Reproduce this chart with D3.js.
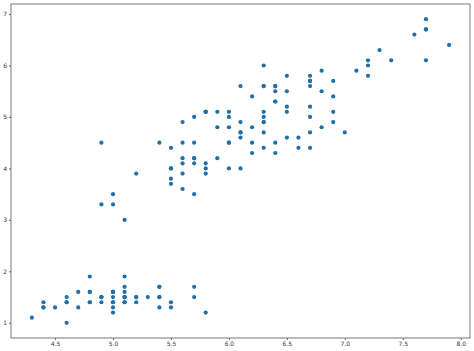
<!DOCTYPE html>
<html>
<head>
<meta charset="utf-8">
<script src="https://cdn.jsdelivr.net/npm/d3@7"></script>
<style>
  body { margin: 0; background: #fff; }
  svg { display: block; }
</style>
</head>
<body>
<svg id="chart" width="474" height="351"></svg>
<script>
// sepal length (x) and petal length (y), one entry per flower
const sepalLength = [
  5.1,4.9,4.7,4.6,5.0,5.4,4.6,5.0,4.4,4.9,5.4,4.8,4.8,4.3,5.8,5.7,5.4,5.1,5.7,5.1,5.4,5.1,4.6,5.1,4.8,
  5.0,5.0,5.2,5.2,4.7,4.8,5.4,5.2,5.5,4.9,5.0,5.5,4.9,4.4,5.1,5.0,4.5,4.4,5.0,5.1,4.8,5.1,4.6,5.3,5.0,
  7.0,6.4,6.9,5.5,6.5,5.7,6.3,4.9,6.6,5.2,5.0,5.9,6.0,6.1,5.6,6.7,5.6,5.8,6.2,5.6,5.9,6.1,6.3,6.1,6.4,
  6.6,6.8,6.7,6.0,5.7,5.5,5.5,5.8,6.0,5.4,6.0,6.7,6.3,5.6,5.5,5.5,6.1,5.8,5.0,5.6,5.7,5.7,6.2,5.1,5.7,
  6.3,5.8,7.1,6.3,6.5,7.6,4.9,7.3,6.7,7.2,6.5,6.4,6.8,5.7,5.8,6.4,6.5,7.7,7.7,6.0,6.9,5.6,7.7,6.3,6.7,
  7.2,6.2,6.1,6.4,7.2,7.4,7.9,6.4,6.3,6.1,7.7,6.3,6.4,6.0,6.9,6.7,6.9,5.8,6.8,6.7,6.7,6.3,6.5,6.2,5.9
];
const petalLength = [
  1.4,1.4,1.3,1.5,1.4,1.7,1.4,1.5,1.4,1.5,1.5,1.6,1.4,1.1,1.2,1.5,1.3,1.4,1.7,1.5,1.7,1.5,1.0,1.7,1.9,
  1.6,1.6,1.5,1.4,1.6,1.6,1.5,1.5,1.4,1.5,1.2,1.3,1.5,1.3,1.5,1.3,1.3,1.3,1.6,1.9,1.4,1.6,1.4,1.5,1.4,
  4.7,4.5,4.9,4.0,4.6,4.5,4.7,3.3,4.6,3.9,3.5,4.2,4.0,4.7,3.6,4.4,4.5,4.1,4.5,3.9,4.8,4.0,4.9,4.7,4.3,
  4.4,4.8,5.0,4.5,3.5,3.8,3.7,3.9,5.1,4.5,4.5,4.7,4.4,4.1,4.0,4.4,4.6,4.0,3.3,4.2,4.2,4.2,4.3,3.0,4.1,
  6.0,5.1,5.9,5.6,5.8,6.6,4.5,6.3,5.8,6.1,5.1,5.3,5.5,5.0,5.1,5.3,5.5,6.7,6.9,5.0,5.7,4.9,6.7,4.9,5.7,
  6.0,4.8,4.9,5.6,5.8,6.1,6.4,5.6,5.1,5.6,6.1,5.6,5.5,4.8,5.4,5.6,5.1,5.1,5.9,5.7,5.2,5.0,5.2,5.4,5.1
];
const xTicks = [4.5, 5.0, 5.5, 6.0, 6.5, 7.0, 7.5, 8.0];
const yTicks = [1, 2, 3, 4, 5, 6, 7];

const margin = { top: 4, right: 4, bottom: 13, left: 11 },
      width = 474 - margin.left - margin.right,
      height = 351 - margin.top - margin.bottom;

const svg = d3.select("#chart")
  .append("g")
    .attr("transform", `translate(${margin.left},${margin.top})`);

// matplotlib style 5% padding around the data
const [xMin, xMax] = d3.extent(sepalLength);
const [yMin, yMax] = d3.extent(petalLength);
const xPad = (xMax - xMin) * 0.05, yPad = (yMax - yMin) * 0.05;

const x = d3.scaleLinear()
  .domain([xMin - xPad, xMax + xPad])
  .range([0, width]);

const y = d3.scaleLinear()
  .domain([yMin - yPad, yMax + yPad])
  .range([height, 0]);

const xAxis = svg.append("g")
  .attr("transform", `translate(0,${height})`)
  .call(d3.axisBottom(x).tickValues(xTicks).tickFormat(d3.format(".1f")).tickSize(2).tickPadding(2));

const yAxis = svg.append("g")
  .call(d3.axisLeft(y).tickValues(yTicks).tickFormat(d3.format("d")).tickSize(2).tickPadding(2));

[xAxis, yAxis].forEach(a => {
  a.selectAll("text")
    .attr("font-family", "DejaVu Sans")
    .attr("font-size", 6)
    .attr("fill", "#333");
  a.selectAll("line").attr("stroke", "#666");
  a.select(".domain").remove();
});

// the four spines
svg.append("rect")
  .attr("width", width)
  .attr("height", height)
  .attr("fill", "none")
  .attr("stroke", "#777")
  .attr("stroke-width", 1);

svg.append("g")
  .selectAll("circle")
  .data(d3.range(sepalLength.length))
  .join("circle")
    .attr("cx", i => x(sepalLength[i]))
    .attr("cy", i => y(petalLength[i]))
    .attr("r", 2.1)
    .attr("fill", "#1f6fa8");
</script>
</body>
</html>
